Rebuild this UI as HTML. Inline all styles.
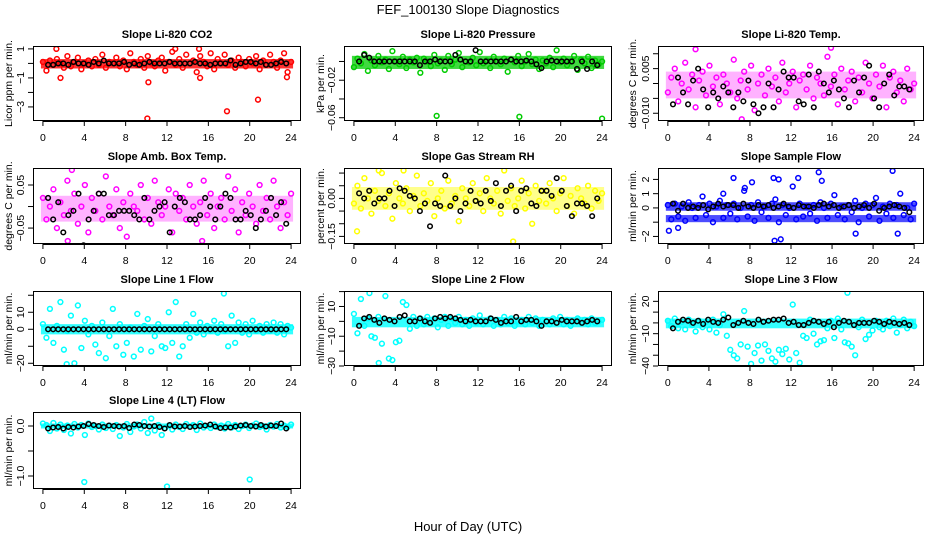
<!DOCTYPE html>
<html><head><meta charset="utf-8"><style>
html,body{margin:0;padding:0;background:#fff}
svg{display:block;font-family:"Liberation Sans",sans-serif}
</style></head><body>
<svg id="c" width="936" height="540">
<text x="468" y="14" text-anchor="middle" font-size="13">FEF_100130  Slope Diagnostics</text>
<text x="468" y="531" text-anchor="middle" font-size="13">Hour of Day (UTC)</text>
</svg>
<script>
// ---- data ----
const hourTicks = [0,4,8,12,16,20,24];
const co2Vals = [0.1,-0.5,0.2,-0.1,0.3,0.0,-0.3,0.5,-0.2,0.1,0.4,-0.4,0.0,0.2,-0.2,0.3,-0.1,0.6,-0.3,0.1,0.0,0.4,-0.2,0.2,-0.4,0.7,0.1,-0.1,0.3,-0.3,0.5,0.0,-0.2,0.2,0.4,-0.5,0.1,0.8,-0.1,0.3,-0.3,0.6,0.0,0.2,-0.6,0.5,0.1,-0.2,0.7,-0.4,0.3,0.0,0.6,-0.1,0.2,-0.3,0.4,0.1,-0.2,0.3,0.0,0.5,-0.4,0.2,-0.1,0.6,0.1,-0.3,0.2,0.7,-0.6,0.1];
const co2Means = [-0.1,-0.1,0.0,0.0,-0.1,0.1,0.0,0.0,-0.1,0.1,0.0,0.2,0.0,0.0,0.0,0.1,-0.1,0.0,-0.1,0.0,0.1,0.0,0.0,0.0,0.1,0.0,0.0,0.0,0.0,0.1,0.0,0.0,-0.1,0.0,0.0,0.0,0.2,-0.1,0.0,0.1,0.1,0.0,0.1,-0.1,-0.1,0.0,0.1,0.0];
const co2OutX = [10.1,17.8,20.8,10.2,1.7,15.2,23.6,1.3,12.8,15.1];
const co2OutY = [-3.8,-3.3,-2.5,-1.3,-1.0,-1.0,-0.95,1.0,1.0,1.0];

const presVals = [-6,3,-2,8,-10,1,-4,6,-1,2,-8,11,0,-3,5,-7,2,-1,4,-12,3,0,-5,7,-2,1,-9,6,-3,2,9,-6,0,-1,4,-4,10,-2,1,-7,5,0,-3,3,-11,2,-1,6,-5,0,8,-3,2,-8,1,-2,4,-6,12,-1,3,-4,0,6,-9,2,-2,5,-7,1,-3,0]; // x0.001
const presMeans = [0,7,4,0,0,0,0,0,0,0,0,0,-4,0,0,2,0,0,0,7,2,0,0,12,0,0,0,0,0,0,2,0,0,1,0,-3,-7,0,1,0,0,0,0,-8,0,-8,0,-4]; // x0.001
const presOutX = [8,16,24];
const presOutY = [-0.058,-0.059,-0.061];

const tempVals = [-3,2,5,-6,0,7,-2,3,-8,1,4,-4,6,-1,2,-7,3,0,-3,8,-5,1,4,-2,6,-9,0,3,-4,5,-1,2,-6,7,-3,0,4,-8,1,3,-2,6,-5,2,0,-4,9,-1,3,-7,5,-2,1,4,-6,2,-3,7,0,-5,3,-1,6,-8,2,4,-3,1,-6,5,-2,0]; // x0.001
const tempMeans = [-7,2,-3,-7,1,5,-2,-8,-3,-5,-1,-3,-8,-3,-6,1,-7,-10,-8,0,-8,-2,4,2,2,-6,-7,3,-8,4,0,-3,1,-2,-5,-8,1,-3,2,6,-5,-8,0,3,-4,-1,-1,-2]; // x0.001
const tempOutX = [2.7,7.2,15.9];
const tempOutY = [0.0115,-0.012,0.012];

const ambVals = [2,-3,0,4,-5,1,-2,6,-1,3,-4,0,5,-6,2,-1,3,-3,7,0,-2,4,-5,1,-7,3,0,-1,5,-3,2,-4,6,1,-2,0,4,-6,3,-1,2,-3,5,0,-4,1,6,-2,3,-5,0,2,-3,7,-1,4,-6,1,-2,3,0,-4,5,-1,2,-3,6,0,-5,1,-2,3]; // x0.01
const ambMeans = [2,-3,1,-6,-2,-1,3,-9,-3,-1,3,3,-2,-2,-1,-1,-1,-2,-3,2,-3,-1,0,1,-6,0,2,1,-3,-3,-2,2,0,-3,0,3,2,-3,-3,-1,-2,-5,-3,-1,2,-2,1,-4]; // x0.01
const ambOutX = [2.8,2.4,15.4];
const ambOutY = [0.085,-0.08,-0.08];

const rhVals = [-2,5,-4,8,0,-6,3,-1,10,-3,2,-8,6,0,-2,4,-5,1,9,-3,2,-1,6,-7,0,3,-4,7,-2,1,-9,4,0,-3,6,-1,2,-5,8,0,-2,3,-6,11,-1,4,-3,0,7,-4,2,-10,5,-1,3,-2,6,0,-5,2,8,-3,1,-6,4,0,-2,5,-4,3,-1,2]; // x0.01
const rhMeans = [2,0,3,-2,0,0,3,-3,4,3,1,0,-5,-2,-11,-2,-3,9,-3,0,-5,-2,3,-1,-2,3,-1,6,-3,3,5,-5,3,4,-2,-3,3,3,1,8,3,-3,-7,-2,-2,-3,-7,0]; // x0.01
const rhOutX = [2.4,4.8,15.4,0.3];
const rhOutY = [0.11,0.11,-0.17,-0.13];

const flowVals = [2,-8,3,-6,1,-9,4,0,-7,2,8,-5,3,-10,1,5,-7,2,-4,3,-8,0,12,-6,2,-9,4,-3,1,-7,3,6,-10,2,-5,0,15,-8,3,-6,1,-4,2,-9,4,0,-7,3,9,-5,1,-8,2,-3,5,-10,0,3,-6,2,7,-9,1,-4,3,-7,2,10,-5,0,-8,3]; // x0.1
const flowMeans = [3,-2,3,0,1,0,2,-1,1,3,1,2,2,0,3,1,0,2,1,2,0,1,3,1,0,2,1,1,0,2,3,1,2,0,1,2,0,1,2,0,3,-2,0,1,2,1,0,-3]; // x0.1
const flowOutX = [0.1,1.0,6.4,10.3,10.8,10.4,11.0,14.7,15.0,12.7,18.3,21.9,22.4,8.2,5.4,7.5];
const flowOutY = [-1.6,-1.4,2.1,2.1,2.0,-2.3,-2.2,2.5,1.9,2.1,-1.8,2.6,-1.8,1.8,1.0,1.4];

const l1Vals = [3,-5,12,-8,2,16,-12,-1,8,-20,14,-11,5,-3,2,-9,-14,4,-17,-4,12,-10,3,-15,-8,1,-16,9,-12,2,6,-13,-4,3,-10,-11,10,-8,16,-16,-10,3,-5,9,-2,4,-3,2,-1,5,-2,3,-1,-10,8,-8,4,-2,3,-3,5,-1,2,-2,3,-1,4,-2,3,-3,2,1];
const l1Means = [0,0,0,0,0,0,0,0,0,0,0,0,0,0,0,0,0,0,0,0,0,0,0,0,0,0,0,0,0,0,0,0,0,0,0,0,0,0,0,0,0,0,0,0,0,0,0,0];
const l1OutX = [2.3,17.5];
const l1OutY = [-20.5,21];

const l2Vals = [5,-8,15,-3,2,-10,-11,3,-15,17,-25,-26,-14,-13,13,11,-5,3,-3,2,-2,3,-1,2,-4,1,3,-3,2,-1,3,-2,1,-3,2,-1,4,-2,0,2,-3,1,-2,3,-1,2,-3,0,1,-2,3,-1,2,-3,1,0,-2,2,-1,3,-2,1,-3,0,2,-1,1,-2,2,-1,0,1];
const l2Means = [-3,2,3,1,-1,2,1,0,3,4,0,0,2,0,-1,2,3,2,3,2,1,0,1,0,0,0,2,1,-1,0,0,3,0,1,1,0,-3,0,0,-1,1,0,0,0,-1,0,1,0];
const l2OutX = [1.5,2.4];
const l2OutY = [19,-28];

const l3Vals = [2,-3,4,-5,1,-6,3,-2,-8,2,-4,1,-6,3,-9,-2,8,-12,-25,-30,-33,-20,11,-22,-38,-28,-21,-35,-20,-26,-33,-36,-25,-29,-24,-34,17,-28,-37,-12,-14,3,-10,-20,-17,-16,-5,2,-14,4,-6,-18,-19,-22,-30,-4,3,-15,-11,-7,2,-4,-6,2,-3,4,-9,-2,3,-5,1,-3];
const l3Means = [-5,1,3,2,0,2,-1,3,1,0,3,5,-2,0,2,0,-1,3,1,2,3,3,4,0,1,-2,-2,0,2,1,-1,1,-4,0,2,1,-2,0,0,0,2,1,-1,1,0,-1,0,-2];
const l3OutX = [17.5];
const l3OutY = [28];

const l4Vals = [5,2,-10,6,-5,3,-8,1,-15,4,-3,2,-18,5,-2,0,-7,3,-4,1,-6,2,-20,-3,4,-12,-1,3,-5,8,-14,15,-9,2,-18,-4,1,-7,3,-2,-6,4,-1,2,-8,5,-3,0,-4,3,-2,1,-5,4,-3,2,-6,0,3,-4,1,5,-2,0,-7,2,-1,4,-3,1,-2,3]; // x0.01
const l4Means = [-5,-3,-2,-5,-2,-3,-1,0,4,2,0,-2,1,0,-1,0,-4,3,2,0,-1,0,-2,-5,2,-1,-1,0,-2,-1,0,1,3,-1,-4,-3,-3,-1,1,2,0,-1,2,-1,1,0,5,-5]; // x0.01
const l4OutX = [4,12,20];
const l4OutY = [-1.12,-1.21,-1.07];

// dense cores [lo, hi]
const co2Core = [[-0.35,0.3]];
const presCore = [[-0.008,0.006]];
const tempCore = [[-0.005,0.004]];
const ambCore = [[-0.035,0.025]];
const rhCore = [[-0.045,0.045]];
const flowCore = [[-0.2,0.4],[-1.0,-0.5]];
const l1Core = [[-3,3]];
const l2Core = [[-4,3]];
const l3Core = [[-5,4]];
const l4Core = [[-0.05,0.05]];

// ---- layout ----
const COLS = [{l:33,r:301,lab:8},{l:344,r:612,lab:320},{l:658,r:924,lab:632}];
const ROWS = [{t:46,b:121},{t:168,b:244},{t:291,b:366},{t:412,b:489}];
const NS = 'http://www.w3.org/2000/svg';
const svg = document.getElementById('c');
function mk(tag, attrs, parent){const e=document.createElementNS(NS,tag);for(const k in attrs)e.setAttribute(k,attrs[k]);(parent||svg).appendChild(e);return e;}

const panels = [
 {title:'Slope Li-820 CO2',ylab:'Licor ppm per min.',col:'#ff0000',op:0.8,ymin:-3.97,ymax:1.2,ticks:[1,0,-1,-2,-3],labels:[1,-1,-3],fmt:v=>String(v).replace('-','\u2212'),vals:co2Vals,sc:1,means:co2Means,msc:1,ox:co2OutX,oy:co2OutY,core:co2Core},
 {title:'Slope Li-820 Pressure',ylab:'kPa per min.',col:'#00cc00',op:0.75,ymin:-0.0635,ymax:0.0165,ticks:[0,-0.02,-0.04,-0.06],labels:[-0.02,-0.06],fmt:v=>v.toFixed(2).replace('-','\u2212'),vals:presVals,sc:0.001,means:presMeans,msc:0.001,ox:presOutX,oy:presOutY,core:presCore},
 {title:'Slope Li-820 Temp.',ylab:'degrees C per min.',col:'#ff00ff',op:0.3,ymin:-0.0126,ymax:0.0126,ticks:[0.01,0.005,0,-0.005,-0.01],labels:[0.005,-0.01],fmt:v=>v.toFixed(3).replace('-','\u2212'),vals:tempVals,sc:0.001,means:tempMeans,msc:0.001,ox:tempOutX,oy:tempOutY,core:tempCore},
 {title:'Slope Amb. Box Temp.',ylab:'degrees C per min.',col:'#ff00ff',op:0.3,ymin:-0.087,ymax:0.0895,ticks:[0.05,0,-0.05],labels:[0.05,-0.05],fmt:v=>v.toFixed(2).replace('-','\u2212'),vals:ambVals,sc:0.01,means:ambMeans,msc:0.01,ox:ambOutX,oy:ambOutY,core:ambCore},
 {title:'Slope Gas Stream RH',ylab:'percent per min.',col:'#ffff00',op:0.45,ymin:-0.18,ymax:0.12,ticks:[0.1,0.05,0,-0.05,-0.1,-0.15],labels:[0,-0.15],fmt:v=>v.toFixed(2).replace('-','\u2212'),vals:rhVals,sc:0.01,means:rhMeans,msc:0.01,ox:rhOutX,oy:rhOutY,core:rhCore},
 {title:'Slope Sample Flow',ylab:'ml/min per min.',col:'#0000ff',op:0.7,ymin:-2.53,ymax:2.8,ticks:[2,1,0,-1,-2],labels:[2,1,0,-2],fmt:v=>String(v).replace('-','\u2212'),vals:flowVals,sc:0.1,means:flowMeans,msc:0.1,ox:flowOutX,oy:flowOutY,core:flowCore},
 {title:'Slope Line 1 Flow',ylab:'ml/min per min.',col:'#00ffff',op:0.8,ymin:-21.6,ymax:22.5,ticks:[20,10,0,-10,-20],labels:[10,0,-20],fmt:v=>String(v).replace('-','\u2212'),vals:l1Vals,sc:1,means:l1Means,msc:1,ox:l1OutX,oy:l1OutY,core:l1Core},
 {title:'Slope Line 2 Flow',ylab:'ml/min per min.',col:'#00ffff',op:0.8,ymin:-30,ymax:20.4,ticks:[20,10,0,-10,-20,-30],labels:[10,-10,-30],fmt:v=>String(v).replace('-','\u2212'),vals:l2Vals,sc:1,means:l2Means,msc:1,ox:l2OutX,oy:l2OutY,core:l2Core},
 {title:'Slope Line 3 Flow',ylab:'ml/min per min.',col:'#00ffff',op:0.8,ymin:-40,ymax:29.6,ticks:[20,10,0,-10,-20,-30,-40],labels:[20,-10,-40],fmt:v=>String(v).replace('-','\u2212'),vals:l3Vals,sc:1,means:l3Means,msc:1,ox:l3OutX,oy:l3OutY,core:l3Core},
 {title:'Slope Line 4 (LT) Flow',ylab:'ml/min per min.',col:'#00ffff',op:0.8,ymin:-1.26,ymax:0.28,ticks:[0,-0.5,-1],labels:[0,-1],fmt:v=>v.toFixed(1).replace('-','\u2212'),vals:l4Vals,sc:0.01,means:l4Means,msc:0.01,ox:l4OutX,oy:l4OutY,core:l4Core}
];

panels.forEach((p,idx)=>{
  const C = COLS[idx%3], R = ROWS[Math.floor(idx/3)];
  const xs = h => C.l + (h+0.96)/25.92*(C.r-C.l);
  const ys = v => R.b - (v-p.ymin)/(p.ymax-p.ymin)*(R.b-R.t);
  const g = mk('g',{});
  
  
  const clipId='clip'+idx;
  const cp=mk('clipPath',{id:clipId},g); mk('rect',{x:C.l,y:R.t,width:C.r-C.l,height:R.b-R.t},cp);
  const pts = mk('g',{'clip-path':'url(#'+clipId+')'},g);
  p.core.forEach(b=>{
    const r=mk('rect',{x:xs(0)-2,y:ys(b[1]),width:xs(24)-xs(0)+4,height:ys(b[0])-ys(b[1]),fill:p.col,opacity:p.op},pts);
    
    
  });
  const n=p.vals.length;
  p.vals.forEach((v,i)=>{
    const c=mk('circle',{cx:xs(i*24/(n-1)),cy:ys(v*p.sc),r:2.4,fill:'none',stroke:p.col,'stroke-width':1.5},pts);
    
    
  });
  p.ox.forEach((h,i)=>{
    const c=mk('circle',{cx:xs(h),cy:ys(p.oy[i]),r:2.4,fill:'none',stroke:p.col,'stroke-width':1.5},pts);
    
    
  });
  p.means.forEach((v,i)=>{
    const c=mk('circle',{cx:xs(0.5+i*0.49),cy:ys(v*p.msc),r:2.3,fill:'none',stroke:'#000','stroke-width':1.5},pts);
    
    
  });
  const bx=mk('rect',{x:C.l+0.5,y:R.t+0.5,width:C.r-C.l-1,height:R.b-R.t-1,fill:'none',stroke:'#000','stroke-width':1},g);
  
  
  const t=mk('text',{x:(C.l+C.r)/2,y:R.t-8,'text-anchor':'middle','font-size':11,'font-weight':'bold'},g);
  t.textContent=p.title;
  
  
  hourTicks.forEach(h=>{
    mk('line',{x1:xs(h),x2:xs(h),y1:R.b,y2:R.b+5,stroke:'#000'},g);
    const tl=mk('text',{x:xs(h),y:R.b+20,'text-anchor':'middle','font-size':10.5},g);
    tl.textContent=h;
    
    
  });
  mk('line',{x1:xs(0),x2:xs(24),y1:R.b+0.5,y2:R.b+0.5,stroke:'#000'},g);
  p.ticks.forEach(v=>{
    mk('line',{x1:C.l-5,x2:C.l,y1:ys(v),y2:ys(v),stroke:'#000'},g);
  });
  p.labels.forEach(v=>{
    const yy=ys(v), xx=C.l-9;
    const tl=mk('text',{x:xx,y:yy,'text-anchor':'middle','font-size':10.5,transform:'rotate(-90 '+xx+' '+yy+')'},g);
    tl.textContent=p.fmt(v);
    
    
  });
  mk('line',{x1:C.l+0.5,x2:C.l+0.5,y1:ys(p.ticks[0]),y2:ys(p.ticks[p.ticks.length-1]),stroke:'#000'},g);
  const ym=(R.t+R.b)/2, yl=C.lab+4;
  const yt=mk('text',{x:yl,y:ym,'text-anchor':'middle','font-size':10.5,transform:'rotate(-90 '+yl+' '+ym+')'},g);
  yt.textContent=p.ylab;
  
  
});
</script>
</body></html>
